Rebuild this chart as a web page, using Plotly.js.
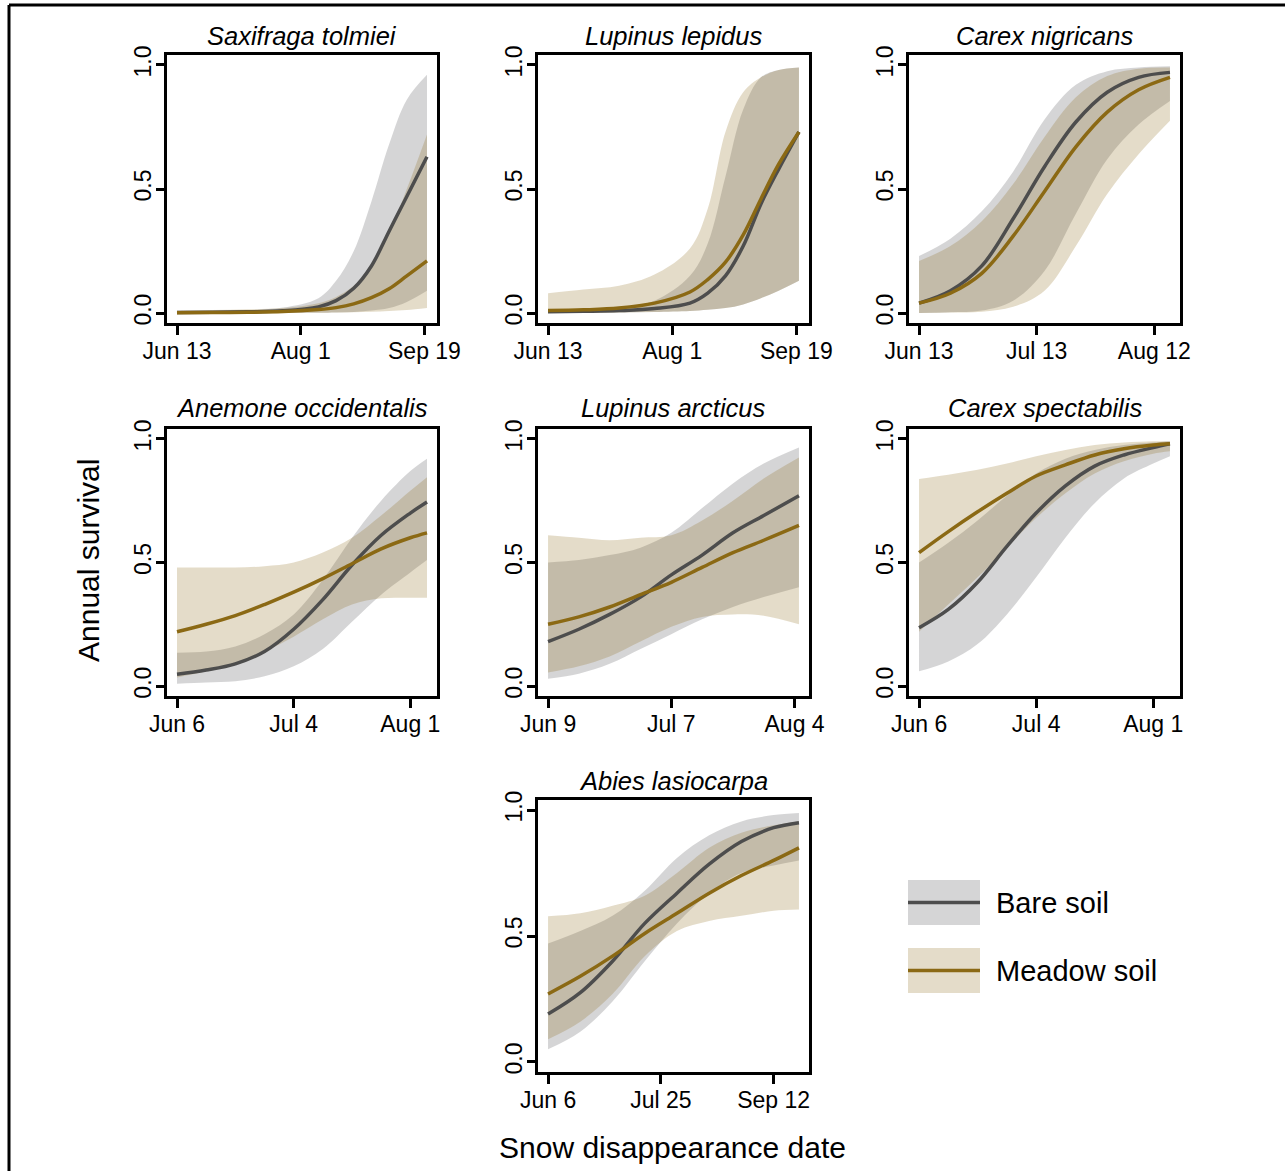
<!DOCTYPE html>
<html>
<head>
<meta charset="utf-8">
<script src="https://cdn.plot.ly/plotly-3.0.1.min.js"></script>
<style>html,body{margin:0;padding:0;background:#fff;}</style>
</head>
<body>
<div id="chart" style="width:1285px;height:1171px;"></div>
<script>
// ---------------- DATA ----------------
// Saxifraga tolmiei
const sax_dates   = ['2013-06-13','2013-06-27','2013-07-11','2013-07-25','2013-08-08','2013-08-15','2013-08-22','2013-08-29','2013-09-05','2013-09-12','2013-09-20'];
const sax_bare    = [0.002,0.003,0.005,0.009,0.025,0.05,0.10,0.19,0.33,0.47,0.63];
const sax_bare_lo = [0,0,0,0,0.001,0.002,0.004,0.01,0.02,0.045,0.09];
const sax_bare_hi = [0.006,0.008,0.012,0.022,0.06,0.13,0.25,0.45,0.68,0.86,0.96];
const sax_mead    = [0.001,0.002,0.003,0.006,0.014,0.022,0.037,0.062,0.098,0.15,0.21];
const sax_mead_lo = [0,0,0,0,0.001,0.002,0.003,0.005,0.008,0.012,0.02];
const sax_mead_hi = [0.01,0.012,0.015,0.02,0.04,0.065,0.11,0.19,0.32,0.50,0.72];
const sax_ticks   = ['2013-06-13','2013-08-01','2013-09-19'];
const sax_labels  = ['Jun 13','Aug 1','Sep 19'];

// Lupinus lepidus
const lep_dates   = ['2013-06-13','2013-06-27','2013-07-11','2013-07-25','2013-08-08','2013-08-15','2013-08-22','2013-08-29','2013-09-05','2013-09-12','2013-09-20'];
const lep_bare    = [0.005,0.007,0.01,0.018,0.04,0.08,0.15,0.27,0.44,0.58,0.73];
const lep_bare_lo = [0.001,0.001,0.002,0.004,0.008,0.013,0.02,0.035,0.06,0.09,0.13];
const lep_bare_hi = [0.012,0.016,0.025,0.05,0.15,0.28,0.55,0.82,0.95,0.98,0.99];
const lep_mead    = [0.01,0.013,0.02,0.04,0.085,0.135,0.205,0.315,0.46,0.60,0.73];
const lep_mead_lo = [0.001,0.001,0.002,0.004,0.008,0.013,0.02,0.035,0.06,0.09,0.13];
const lep_mead_hi = [0.08,0.095,0.11,0.155,0.26,0.42,0.73,0.89,0.95,0.98,0.99];
const lep_ticks   = ['2013-06-13','2013-08-01','2013-09-19'];
const lep_labels  = ['Jun 13','Aug 1','Sep 19'];

// Carex nigricans
const nig_dates   = ['2013-06-13','2013-06-21','2013-06-29','2013-07-07','2013-07-15','2013-07-23','2013-07-31','2013-08-08','2013-08-16'];
const nig_bare    = [0.04,0.09,0.19,0.38,0.59,0.77,0.89,0.95,0.97];
const nig_bare_lo = [0.0,0.003,0.01,0.05,0.17,0.40,0.62,0.76,0.855];
const nig_bare_hi = [0.23,0.30,0.41,0.57,0.78,0.92,0.975,0.99,0.995];
const nig_mead    = [0.04,0.08,0.16,0.31,0.49,0.67,0.81,0.90,0.95];
const nig_mead_lo = [0.0,0.002,0.005,0.025,0.09,0.27,0.48,0.64,0.775];
const nig_mead_hi = [0.21,0.27,0.37,0.52,0.71,0.87,0.955,0.985,0.99];
const nig_ticks   = ['2013-06-13','2013-07-13','2013-08-12'];
const nig_labels  = ['Jun 13','Jul 13','Aug 12'];

// Anemone occidentalis
const ane_dates   = ['2013-06-06','2013-06-13','2013-06-20','2013-06-27','2013-07-04','2013-07-11','2013-07-18','2013-07-25','2013-08-01','2013-08-05'];
const ane_bare    = [0.048,0.065,0.09,0.14,0.23,0.35,0.49,0.61,0.70,0.745];
const ane_bare_lo = [0.01,0.015,0.02,0.04,0.08,0.15,0.26,0.37,0.46,0.51];
const ane_bare_hi = [0.135,0.14,0.16,0.21,0.29,0.43,0.60,0.75,0.87,0.92];
const ane_mead    = [0.22,0.25,0.285,0.33,0.38,0.435,0.495,0.555,0.60,0.62];
const ane_mead_lo = [0.035,0.06,0.09,0.14,0.20,0.27,0.33,0.355,0.357,0.357];
const ane_mead_hi = [0.48,0.48,0.48,0.485,0.50,0.54,0.60,0.69,0.79,0.845];
const ane_ticks   = ['2013-06-06','2013-07-04','2013-08-01'];
const ane_labels  = ['Jun 6','Jul 4','Aug 1'];

// Lupinus arcticus
const arc_dates   = ['2013-06-09','2013-06-16','2013-06-23','2013-06-30','2013-07-07','2013-07-14','2013-07-21','2013-07-28','2013-08-05'];
const arc_bare    = [0.18,0.23,0.29,0.36,0.45,0.53,0.62,0.69,0.77];
const arc_bare_lo = [0.03,0.05,0.09,0.15,0.21,0.27,0.32,0.36,0.40];
const arc_bare_hi = [0.50,0.51,0.53,0.56,0.62,0.72,0.82,0.90,0.965];
const arc_mead    = [0.25,0.28,0.32,0.37,0.42,0.48,0.54,0.59,0.65];
const arc_mead_lo = [0.055,0.08,0.12,0.18,0.24,0.28,0.29,0.285,0.25];
const arc_mead_hi = [0.61,0.60,0.59,0.60,0.61,0.67,0.75,0.84,0.925];
const arc_ticks   = ['2013-06-09','2013-07-07','2013-08-04'];
const arc_labels  = ['Jun 9','Jul 7','Aug 4'];

// Carex spectabilis
const spe_dates   = ['2013-06-06','2013-06-13','2013-06-20','2013-06-27','2013-07-04','2013-07-11','2013-07-18','2013-07-25','2013-08-01','2013-08-05'];
const spe_bare    = [0.236,0.31,0.42,0.565,0.70,0.81,0.89,0.935,0.965,0.98];
const spe_bare_lo = [0.06,0.10,0.17,0.29,0.44,0.60,0.74,0.84,0.90,0.93];
const spe_bare_hi = [0.50,0.58,0.67,0.77,0.86,0.92,0.955,0.975,0.985,0.99];
const spe_mead    = [0.54,0.625,0.705,0.78,0.85,0.895,0.935,0.96,0.975,0.98];
const spe_mead_lo = [0.22,0.33,0.44,0.56,0.68,0.78,0.86,0.91,0.94,0.95];
const spe_mead_hi = [0.838,0.855,0.875,0.90,0.93,0.955,0.975,0.985,0.99,0.99];
const spe_ticks   = ['2013-06-06','2013-07-04','2013-08-01'];
const spe_labels  = ['Jun 6','Jul 4','Aug 1'];

// Abies lasiocarpa
const abi_dates   = ['2013-06-06','2013-06-20','2013-07-04','2013-07-18','2013-08-01','2013-08-15','2013-08-29','2013-09-12','2013-09-23'];
const abi_bare    = [0.19,0.275,0.40,0.55,0.67,0.785,0.875,0.93,0.95];
const abi_bare_lo = [0.05,0.12,0.24,0.40,0.55,0.67,0.75,0.78,0.80];
const abi_bare_hi = [0.47,0.52,0.58,0.68,0.81,0.90,0.955,0.98,0.988];
const abi_mead    = [0.27,0.34,0.42,0.51,0.59,0.67,0.74,0.80,0.85];
const abi_mead_lo = [0.09,0.16,0.27,0.42,0.52,0.56,0.58,0.60,0.605];
const abi_mead_hi = [0.578,0.59,0.62,0.66,0.75,0.85,0.91,0.94,0.955];
const abi_ticks   = ['2013-06-06','2013-07-25','2013-09-12'];
const abi_labels  = ['Jun 6','Jul 25','Sep 12'];

const species = ['Saxifraga tolmiei','Lupinus lepidus','Carex nigricans','Anemone occidentalis','Lupinus arcticus','Carex spectabilis','Abies lasiocarpa'];
const yTickVals = [0, 0.5, 1];
const yTickText = ['0.0', '0.5', '1.0'];
const seriesNames = ['Bare soil', 'Meadow soil'];
const xTitle = 'Snow disappearance date';
const yTitle = 'Annual survival';

// ---------------- TABLE built from the arrays ----------------
const panels = [
  {d:sax_dates,b:sax_bare,bl:sax_bare_lo,bh:sax_bare_hi,m:sax_mead,ml:sax_mead_lo,mh:sax_mead_hi,tv:sax_ticks,tt:sax_labels,row:0,col:0},
  {d:lep_dates,b:lep_bare,bl:lep_bare_lo,bh:lep_bare_hi,m:lep_mead,ml:lep_mead_lo,mh:lep_mead_hi,tv:lep_ticks,tt:lep_labels,row:0,col:1},
  {d:nig_dates,b:nig_bare,bl:nig_bare_lo,bh:nig_bare_hi,m:nig_mead,ml:nig_mead_lo,mh:nig_mead_hi,tv:nig_ticks,tt:nig_labels,row:0,col:2},
  {d:ane_dates,b:ane_bare,bl:ane_bare_lo,bh:ane_bare_hi,m:ane_mead,ml:ane_mead_lo,mh:ane_mead_hi,tv:ane_ticks,tt:ane_labels,row:1,col:0},
  {d:arc_dates,b:arc_bare,bl:arc_bare_lo,bh:arc_bare_hi,m:arc_mead,ml:arc_mead_lo,mh:arc_mead_hi,tv:arc_ticks,tt:arc_labels,row:1,col:1},
  {d:spe_dates,b:spe_bare,bl:spe_bare_lo,bh:spe_bare_hi,m:spe_mead,ml:spe_mead_lo,mh:spe_mead_hi,tv:spe_ticks,tt:spe_labels,row:1,col:2},
  {d:abi_dates,b:abi_bare,bl:abi_bare_lo,bh:abi_bare_hi,m:abi_mead,ml:abi_mead_lo,mh:abi_mead_hi,tv:abi_ticks,tt:abi_labels,row:2,col:1}
];

// ---------------- STYLE / GEOMETRY ----------------
const W = 1285, H = 1171;
const FONT = '"Liberation Sans", Arial, Helvetica, sans-serif';
const colX = [[167,437],[538,809],[909,1180]];
const rowY = [[55,323],[429,696],[800,1072]];
const titleY = [36, 408, 781];
const BARE_LINE = '#4d4d4d', MEAD_LINE = '#8b6914';
const BARE_FILL = 'rgba(128,128,132,0.33)', MEAD_FILL = 'rgba(139,105,20,0.23)';

const px = v => v / W;
const py = v => 1 - v / H;

const data = [];
const layout = {
  width: W, height: H,
  margin: {l:0, r:0, t:0, b:0},
  paper_bgcolor: '#fff', plot_bgcolor: '#fff',
  showlegend: false,
  font: {family: FONT, color: '#000'},
  annotations: [], shapes: []
};

panels.forEach((p, i) => {
  const k = i + 1;
  const xa = 'x' + k, ya = 'y' + k;
  const base = {x: p.d, xaxis: xa, yaxis: ya, mode: 'lines', hoverinfo: 'skip', showlegend: false};
  data.push(Object.assign({}, base, {y: p.bl, line: {width: 0, shape: 'spline', color: BARE_FILL}}));
  data.push(Object.assign({}, base, {y: p.bh, line: {width: 0, shape: 'spline', color: BARE_FILL}, fill: 'tonexty', fillcolor: BARE_FILL}));
  data.push(Object.assign({}, base, {y: p.ml, line: {width: 0, shape: 'spline', color: MEAD_FILL}}));
  data.push(Object.assign({}, base, {y: p.mh, line: {width: 0, shape: 'spline', color: MEAD_FILL}, fill: 'tonexty', fillcolor: MEAD_FILL}));
  data.push(Object.assign({}, base, {y: p.b, name: seriesNames[0], line: {width: 3.5, shape: 'spline', color: BARE_LINE}}));
  data.push(Object.assign({}, base, {y: p.m, name: seriesNames[1], line: {width: 3.5, shape: 'spline', color: MEAD_LINE}}));

  const t0 = Date.parse(p.d[0]), t1 = Date.parse(p.d[p.d.length - 1]);
  const pad = 0.04 * (t1 - t0);
  const cx = colX[p.col], ry = rowY[p.row];
  const axCommon = {
    showline: true, linewidth: 3, linecolor: '#000', mirror: true,
    showgrid: false, zeroline: false, ticks: 'outside', tickcolor: '#000',
    tickwidth: 3, ticklen: 9, fixedrange: true
  };
  layout['xaxis' + (k === 1 ? '' : k)] = Object.assign({}, axCommon, {
    anchor: ya, domain: [px(cx[0]), px(cx[1])], type: 'date',
    range: [t0 - pad, t1 + pad], tickmode: 'array', tickvals: p.tv, ticktext: p.tt,
    tickfont: {family: FONT, size: 23, color: '#000'}, ticklabelstandoff: -4
  });
  layout['yaxis' + (k === 1 ? '' : k)] = Object.assign({}, axCommon, {
    anchor: xa, domain: [py(ry[1]), py(ry[0])], range: [-0.04, 1.04], ticklen: 8,
    tickmode: 'array', tickvals: yTickVals, ticktext: yTickText, tickangle: -90,
    tickfont: {family: FONT, size: 23, color: '#000'}, ticklabelstandoff: -4
  });
  layout.annotations.push({
    text: '<i>' + species[i] + '</i>', xref: 'paper', yref: 'paper',
    x: px((cx[0] + cx[1]) / 2), y: py(titleY[p.row]), xanchor: 'center', yanchor: 'middle',
    showarrow: false, font: {family: FONT, size: 25.5, color: '#000'}
  });
});

// axis titles
layout.annotations.push({text: yTitle, xref:'paper', yref:'paper', x: px(88), y: py(561), textangle: -90,
  xanchor:'center', yanchor:'middle', showarrow:false, font:{family: FONT, size: 30, color:'#000'}});
layout.annotations.push({text: xTitle, xref:'paper', yref:'paper', x: px(672), y: py(1147),
  xanchor:'center', yanchor:'middle', showarrow:false, font:{family: FONT, size: 30, color:'#000'}});

// legend (drawn as shapes + text)
const legRows = [{y0: 880, y1: 925, fill: BARE_FILL, line: BARE_LINE, text: seriesNames[0]},
                 {y0: 948, y1: 993, fill: MEAD_FILL, line: MEAD_LINE, text: seriesNames[1]}];
legRows.forEach(r => {
  layout.shapes.push({type:'rect', xref:'paper', yref:'paper', x0: px(908), x1: px(980), y0: py(r.y1), y1: py(r.y0),
    fillcolor: r.fill, line: {width: 0}});
  const ym = py((r.y0 + r.y1) / 2);
  layout.shapes.push({type:'line', xref:'paper', yref:'paper', x0: px(908), x1: px(980), y0: ym, y1: ym,
    line: {color: r.line, width: 3.5}});
  layout.annotations.push({text: r.text, xref:'paper', yref:'paper', x: px(994), y: ym, xanchor:'left', yanchor:'middle',
    showarrow:false, font:{family: FONT, size: 29, color:'#000'}});
});

// outer frame (top and left edges)
layout.shapes.push({type:'line', xref:'paper', yref:'paper', x0: px(9), x1: 1, y0: py(5), y1: py(5), line:{color:'#000', width:3}});
layout.shapes.push({type:'line', xref:'paper', yref:'paper', x0: px(9), x1: px(9), y0: 0, y1: py(5), line:{color:'#000', width:3}});

Plotly.newPlot('chart', data, layout, {staticPlot: true, displayModeBar: false});
</script>
</body>
</html>
